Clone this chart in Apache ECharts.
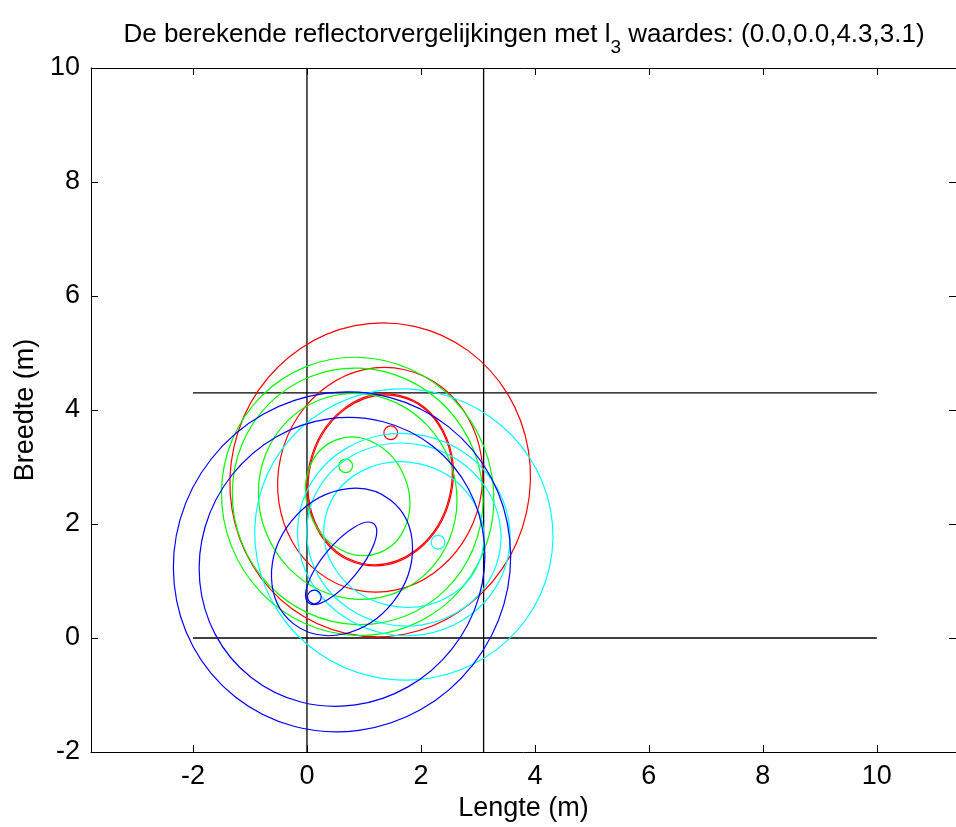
<!DOCTYPE html>
<html><head><meta charset="utf-8">
<script src="https://cdn.jsdelivr.net/npm/echarts@6/dist/echarts.min.js"></script>
<style>html,body{margin:0;padding:0;background:#fff}#c{width:956px;height:827px}</style>
</head><body><div id="c"></div>
<script>
const FONT = "'Liberation Sans',Arial,sans-serif";
const titleParts = ['De berekende reflectorvergelijkingen met l', '3', ' waardes: (0.0,0.0,4.3,3.1)'];
const xName = 'Lengte (m)';
const yName = 'Breedte (m)';
const xTicks = [-2, 0, 2, 4, 6, 8, 10];
const yTicks = [-2, 0, 2, 4, 6, 8, 10];
const xRange = [-3.79, 11.39];
const yRange = [-2, 10];
// walls (l3 values): vertical walls at x, horizontal walls at y
const wallX = [0, 3.1];
const wallY = [0, 4.3];
const wallSpanY = [-2, 10];
const wallSpanX = [-2, 10];
// ellipses: [centerX, centerY, semiAxisA, semiAxisB, angleDeg]
const redEllipses = [
  [1.285, 2.775, 2.76, 2.63, 77.4],
  [1.285, 2.775, 1.98, 1.79, 77.4],
  [1.285, 2.775, 1.52, 1.27, 77.4],
  [1.285, 2.775, 1.50, 1.25, 77.4],
  [1.47, 3.60, 0.12, 0.12, 0]
];
const greenEllipses = [
  [0.89, 2.485, 2.45, 2.38, 111.4],
  [0.89, 2.485, 2.26, 2.19, 111.4],
  [0.89, 2.485, 1.82, 1.73, 111.4],
  [0.89, 2.485, 1.06, 0.89, 111.4],
  [0.68, 3.02, 0.12, 0.12, 0]
];
const cyanEllipses = [
  [1.70, 1.815, 2.62, 2.55, -12.7],
  [1.70, 1.815, 1.87, 1.77, -12.7],
  [1.70, 1.815, 1.71, 1.60, -12.7],
  [1.70, 1.815, 1.41, 1.27, -12.7],
  [2.30, 1.68, 0.12, 0.12, 0]
];
const blueEllipses = [
  [0.615, 1.335, 3.02, 2.92, 51.7],
  [0.615, 1.335, 2.58, 2.46, 51.7],
  [0.615, 1.335, 1.38, 1.14, 51.7],
  [0.60, 1.31, 0.90, 0.32, 50.5],
  [0.13, 0.72, 0.12, 0.12, 0]
];

function ellipseSeries(name, color, data) {
  return {
    type: 'custom', name: name, coordinateSystem: 'cartesian2d',
    xAxisIndex: 0, yAxisIndex: 0, data: data, z: 3, silent: true,
    encode: { x: 0, y: 1 },
    renderItem: function (params, api) {
      const c = api.coord([api.value(0), api.value(1)]);
      const s = api.size([api.value(2), api.value(3)]);
      return {
        type: 'ellipse', x: c[0], y: c[1],
        rotation: api.value(4) * Math.PI / 180,
        shape: { cx: 0, cy: 0, rx: s[0], ry: s[1] },
        style: { fill: 'none', stroke: color, lineWidth: 1.2 }
      };
    }
  };
}
function wallSeries(points) {
  return { type: 'line', data: points, symbol: 'none', silent: true, z: 2,
    lineStyle: { color: '#000', width: 1.3 }, xAxisIndex: 0, yAxisIndex: 0 };
}
const series = [];
wallX.forEach(function (x) { series.push(wallSeries([[x, wallSpanY[0]], [x, wallSpanY[1]]])); });
wallY.forEach(function (y) { series.push(wallSeries([[wallSpanX[0], y], [wallSpanX[1], y]])); });
series.push(ellipseSeries('red', '#ff0000', redEllipses));
series.push(ellipseSeries('green', '#00ff00', greenEllipses));
series.push(ellipseSeries('cyan', '#00ffff', cyanEllipses));
series.push(ellipseSeries('blue', '#0000ff', blueEllipses));

const axisLine = { onZero: false, lineStyle: { color: '#000', width: 1 } };
function tick(vals) { return { inside: true, length: 7, customValues: vals, lineStyle: { color: '#000', width: 1 } }; }
const labelStyle = { color: '#000', fontSize: 27, fontFamily: FONT };

const chart = echarts.init(document.getElementById('c'), null, { renderer: 'canvas' });
chart.setOption({
  animation: false,
  backgroundColor: '#fff',
  grid: { left: 91, top: 68, right: -2, bottom: 75, containLabel: false },
  xAxis: [
    { type: 'value', min: xRange[0], max: xRange[1], position: 'bottom', axisLine: axisLine,
      axisTick: tick(xTicks), splitLine: { show: false },
      axisLabel: Object.assign({ customValues: xTicks, margin: 11 }, labelStyle),
      name: xName, nameLocation: 'middle', nameGap: 37, nameTextStyle: labelStyle },
    { type: 'value', min: xRange[0], max: xRange[1], position: 'top', axisLine: axisLine,
      axisTick: tick(xTicks), splitLine: { show: false }, axisLabel: { show: false } }
  ],
  yAxis: [
    { type: 'value', min: yRange[0], max: yRange[1], position: 'left', axisLine: axisLine,
      axisTick: tick(yTicks), splitLine: { show: false },
      axisLabel: Object.assign({ customValues: yTicks, margin: 11 }, labelStyle),
      name: yName, nameLocation: 'middle', nameGap: 52, nameTextStyle: labelStyle },
    { type: 'value', min: yRange[0], max: yRange[1], position: 'right', axisLine: axisLine,
      axisTick: tick(yTicks), splitLine: { show: false }, axisLabel: { show: false } }
  ],
  graphic: [
    { type: 'text', x: 524, y: 13, z: 10,
      style: { text: titleParts[0] + '{sub|' + titleParts[1] + '}' + titleParts[2],
        align: 'center', verticalAlign: 'top', fill: '#000', fontSize: 26, fontFamily: FONT,
        lineHeight: 30,
        rich: { sub: { fontSize: 19, fontFamily: FONT, lineHeight: 44, verticalAlign: 'bottom' } } } }
  ],
  series: series
});
</script></body></html>
